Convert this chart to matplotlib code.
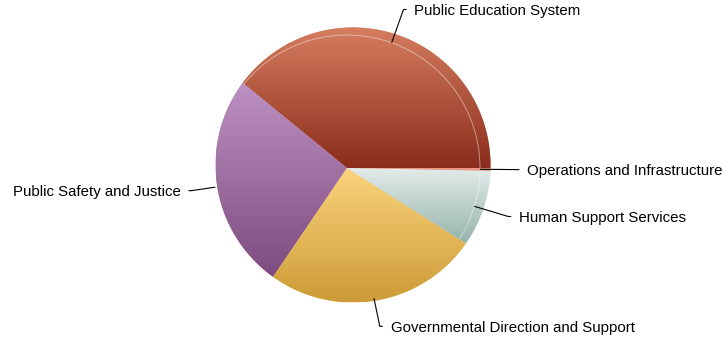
import numpy as np
import matplotlib.pyplot as plt
from matplotlib.colors import LinearSegmentedColormap
from matplotlib.patches import PathPatch, Arc
from matplotlib.path import Path

plt.rcParams['font.family'] = ['Liberation Sans', 'DejaVu Sans']

labels = ["Public Education System", "Public Safety and Justice",
          "Governmental Direction and Support", "Human Support Services",
          "Operations and Infrastructure"]
shares = [39.1, 26.4, 25.5, 8.7, 0.3]
top_colors = ["#d57d5f", "#be91c3", "#fad47d", "#e3ecea", "#f0a08c"]
bottom_colors = ["#8a2d1c", "#7d4b7d", "#cd9b37", "#96b4ac", "#dc826c"]
rimmed = [True, False, False, True, False]

W, H = 723, 345
jx, jy = 347, H - 168      # point where the slices meet
ox, oy = 353, H - 165      # centre of the outer outline
R_out = 137.5
R = 133

fig = plt.figure(figsize=(W / 100, H / 100), dpi=100)
ax = fig.add_axes([0, 0, 1, 1])

wedges, _ = ax.pie(shares, startangle=0, counterclock=True,
                   center=(jx, jy), radius=R,
                   wedgeprops=dict(linewidth=0))


def edge_dist(theta):
    # distance from the meeting point to the outer outline along theta
    d = np.array([np.cos(np.deg2rad(theta)), np.sin(np.deg2rad(theta))])
    v = np.array([jx - ox, jy - oy])
    b = v @ d
    return -b + np.sqrt(b * b - v @ v + R_out ** 2)


def edge_point(theta):
    t = edge_dist(theta)
    return np.array([jx + t * np.cos(np.deg2rad(theta)),
                     jy + t * np.sin(np.deg2rad(theta))])


def slice_path(t1, t2):
    p1, p2 = edge_point(t1), edge_point(t2)
    a1 = np.arctan2(p1[1] - oy, p1[0] - ox)
    a2 = np.arctan2(p2[1] - oy, p2[0] - ox)
    while a2 < a1:
        a2 += 2 * np.pi
    a = np.linspace(a1, a2, 200)
    pts = np.column_stack([ox + R_out * np.cos(a), oy + R_out * np.sin(a)])
    verts = np.vstack([[jx, jy], pts, [jx, jy]])
    codes = [Path.MOVETO] + [Path.LINETO] * len(pts) + [Path.CLOSEPOLY]
    return Path(verts, codes)


grad = np.linspace(0, 1, 256).reshape(-1, 1)
for w, c_top, c_bot, rim in zip(wedges, top_colors, bottom_colors, rimmed):
    w.set_visible(False)
    path = slice_path(w.theta1, w.theta2)
    patch = PathPatch(path, facecolor=c_top, lw=0, zorder=1)
    ax.add_patch(patch)
    ext = path.get_extents()
    cmap = LinearSegmentedColormap.from_list("g", [c_bot, c_top])
    im = ax.imshow(grad, cmap=cmap, origin="lower", aspect="auto",
                   extent=(ext.x0, ext.x1, ext.y0, ext.y1),
                   interpolation="bicubic", zorder=2)
    im.set_clip_path(patch)
    if rim:
        arc = Arc((jx, jy), 2 * R, 2 * R, theta1=w.theta1, theta2=w.theta2,
                  color="white", alpha=0.45, lw=0.7, zorder=3)
        ax.add_patch(arc)
        arc.set_clip_path(patch)

# leader lines and labels
for w, lab in zip(wedges, labels):
    mid = (w.theta1 + w.theta2) / 2
    ang = np.deg2rad(mid)
    r1 = edge_dist(mid) + 26
    x0, y0 = jx + R * np.cos(ang), jy + R * np.sin(ang)
    x1, y1 = jx + r1 * np.cos(ang), jy + r1 * np.sin(ang)
    side = 1 if np.cos(ang) >= 0 else -1
    x2 = x1 + 3 * side
    ax.plot([x0, x1, x2], [y0, y1, y1], color="black", lw=0.8, zorder=4,
            solid_capstyle="butt")
    ax.text(x2 + 8 * side, y1, lab, ha="left" if side > 0 else "right",
            va="center_baseline", fontsize=10.8, color="black")

ax.set_xlim(0, W)
ax.set_ylim(0, H)
ax.axis("off")
fig.savefig("out.png", dpi=100)
